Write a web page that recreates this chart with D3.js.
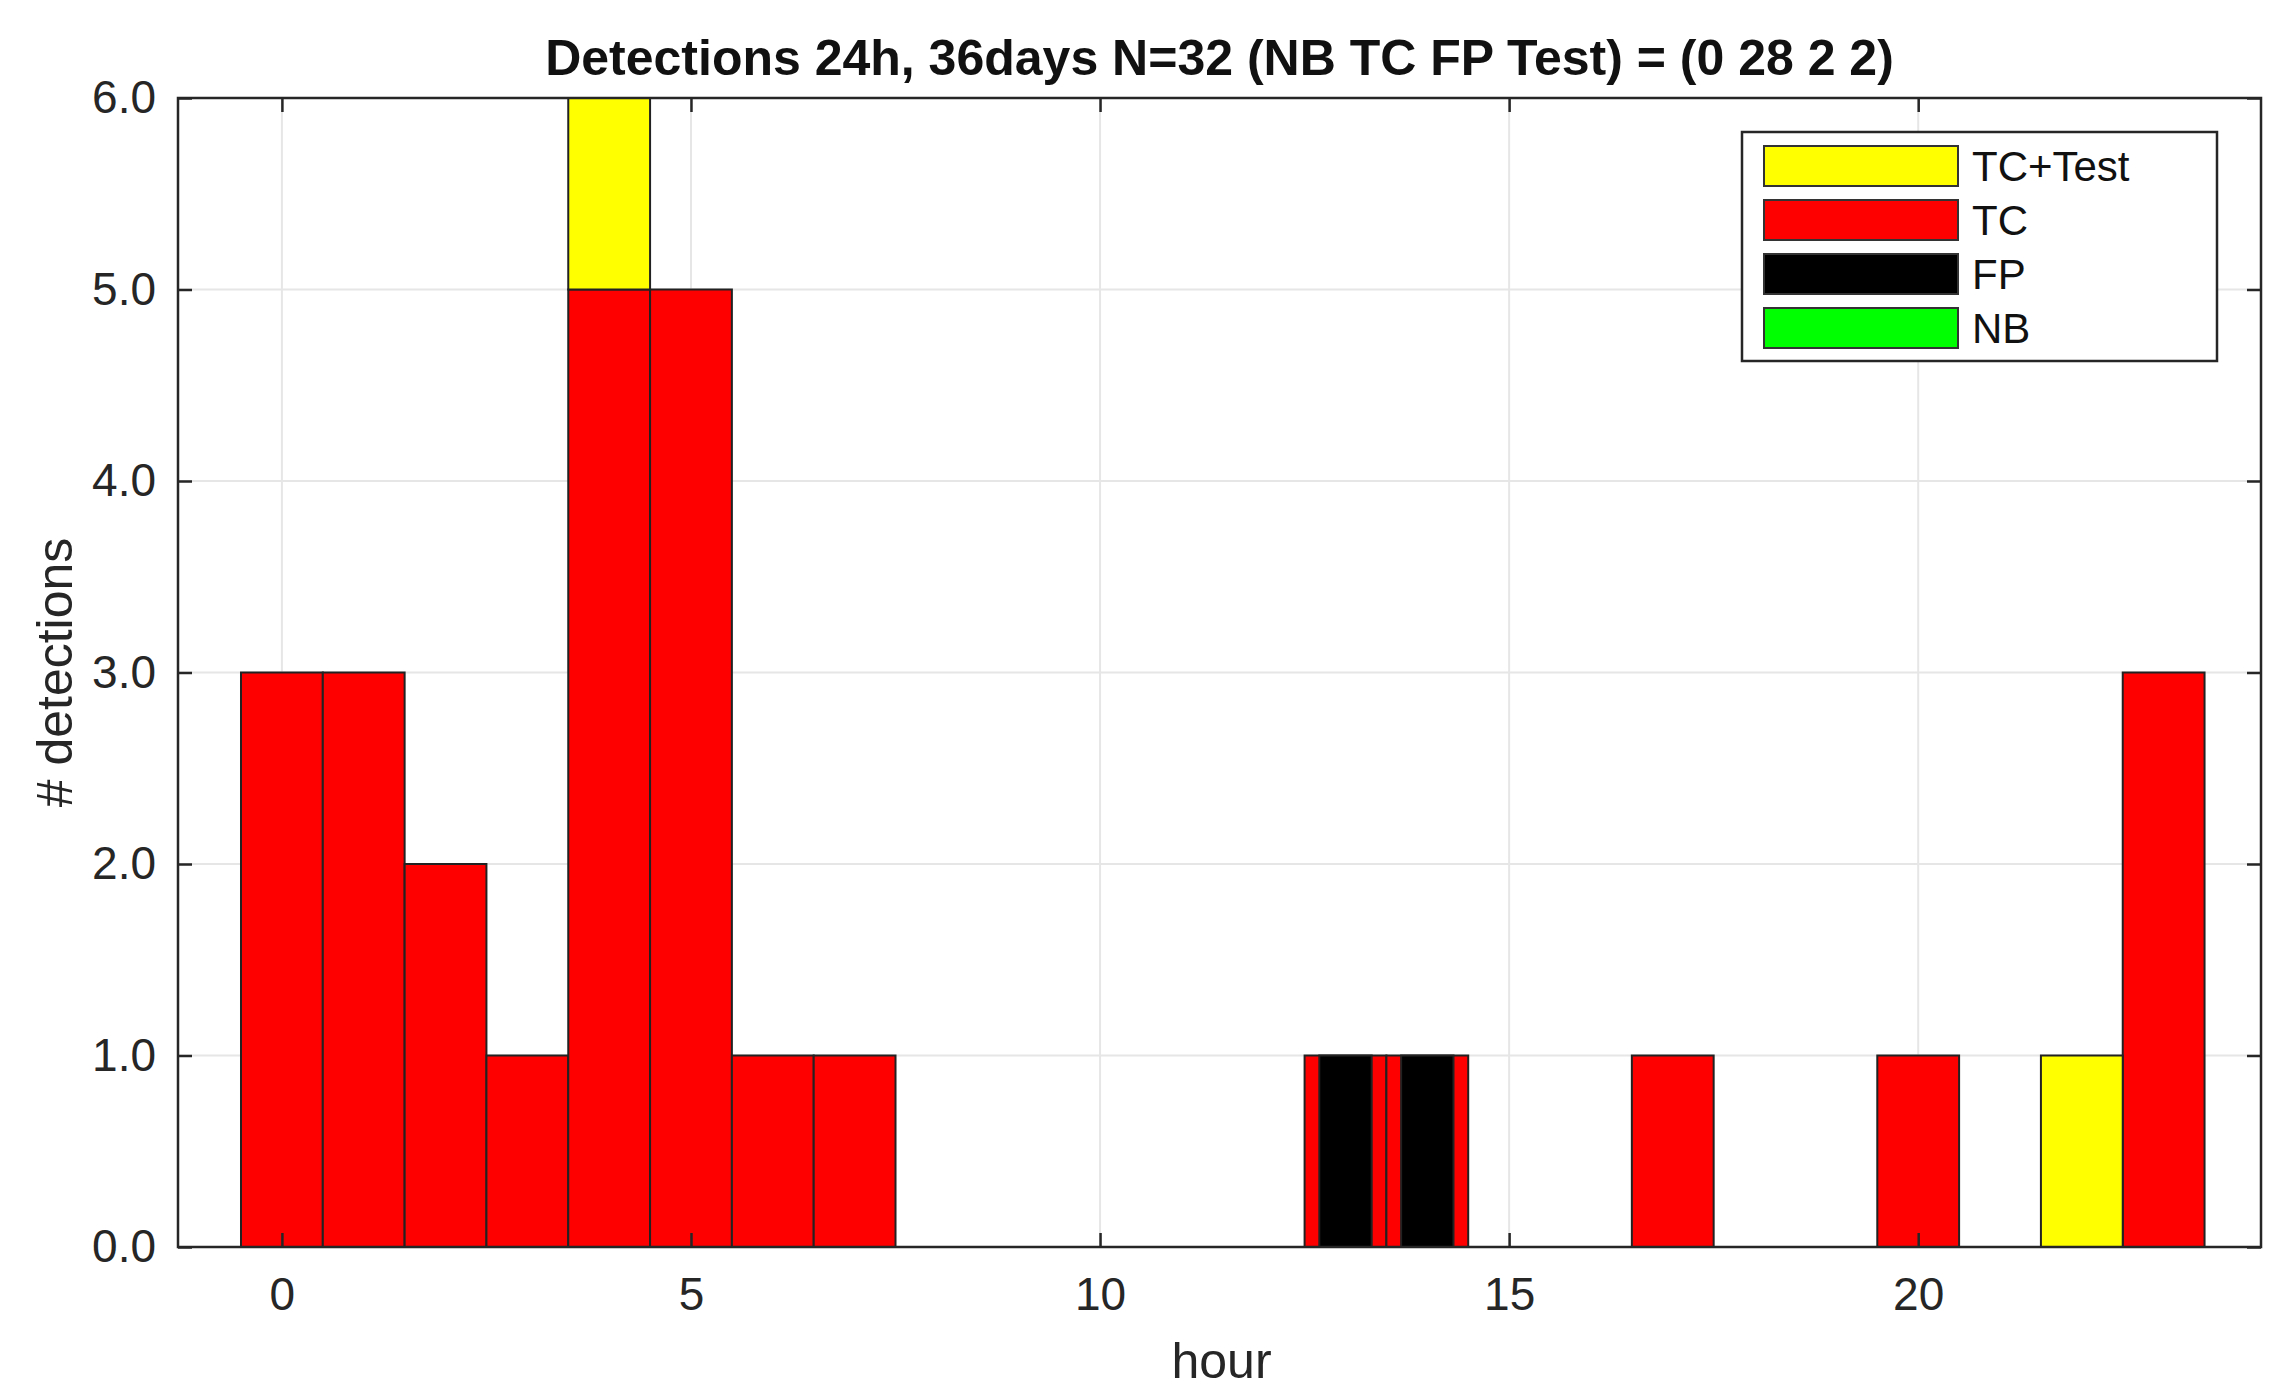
<!DOCTYPE html>
<html><head><meta charset="utf-8">
<script src="https://cdn.jsdelivr.net/npm/d3@7"></script>
<style>body{margin:0;background:#fff}text{font-family:"Liberation Sans",Arial,sans-serif}</style>
</head><body>
<svg width="2283" height="1397"></svg>
<script>
// hourly counts
let hours   = [0,1,2,3,4,5,6,7,13,14,17,20,22,23];
let tcVals  = [3,3,2,1,5,5,1,1,1,1,1,1,0,3];
let testVals= [0,0,0,0,1,0,0,0,0,0,0,0,1,0];
let fpHours = [13,14];
let fpVals  = [1,1];
let xTicks = [0,5,10,15,20];
let yTicks = [0,1,2,3,4,5,6];
let legendLabels = ["TC+Test","TC","FP","NB"];
let legendColors = ["#ffff00","#ff0000","#000000","#00ff00"];

let svg = d3.select("svg");
let L = 178, R = 2261, T = 98, B = 1247;
let x = d3.scaleLinear().domain([-1.27, 24.19]).range([L, R]);
let y = d3.scaleLinear().domain([0, 6]).range([B, T]);

// grid
svg.selectAll(".gx").data(xTicks).enter().append("line")
  .attr("x1", d => x(d)).attr("x2", d => x(d)).attr("y1", T).attr("y2", B)
  .style("stroke", "#e6e6e6").style("stroke-width", 2);
svg.selectAll(".gy").data(yTicks).enter().append("line")
  .attr("x1", L).attr("x2", R).attr("y1", d => y(d)).attr("y2", d => y(d))
  .style("stroke", "#e6e6e6").style("stroke-width", 2);

let bw = x(1) - x(0);
// TC bars
svg.selectAll(".tc").data(hours).enter().append("rect")
  .attr("x", d => x(d - 0.5)).attr("width", bw)
  .attr("y", (d, i) => y(tcVals[i])).attr("height", (d, i) => B - y(tcVals[i]))
  .style("fill", "#ff0000").style("stroke", "#222").style("stroke-width", 2)
  .style("display", (d, i) => tcVals[i] ? null : "none");
// Test stacked on top
svg.selectAll(".ts").data(hours).enter().append("rect")
  .attr("x", d => x(d - 0.5)).attr("width", bw)
  .attr("y", (d, i) => y(tcVals[i] + testVals[i]))
  .attr("height", (d, i) => y(tcVals[i]) - y(tcVals[i] + testVals[i]))
  .style("fill", "#ffff00").style("stroke", "#222").style("stroke-width", 2)
  .style("display", (d, i) => testVals[i] ? null : "none");
// FP narrow bars
svg.selectAll(".fp").data(fpHours).enter().append("rect")
  .attr("x", d => x(d - 0.32)).attr("width", x(0.64) - x(0))
  .attr("y", (d, i) => y(fpVals[i])).attr("height", (d, i) => B - y(fpVals[i]))
  .style("fill", "#000").style("stroke", "#222").style("stroke-width", 2);

// axes box
svg.append("rect").attr("x", L).attr("y", T).attr("width", R - L).attr("height", B - T)
  .style("fill", "none").style("stroke", "#262626").style("stroke-width", 2.5);

let ax = svg.append("g").attr("transform", `translate(0,${B})`)
  .call(d3.axisBottom(x).tickValues(xTicks).tickSizeInner(-14).tickSizeOuter(0).tickPadding(30));
let ay = svg.append("g").attr("transform", `translate(${L},0)`)
  .call(d3.axisLeft(y).tickValues(yTicks).tickSizeInner(-14).tickSizeOuter(0).tickPadding(22));
svg.append("g").attr("transform", `translate(0,${T})`)
  .call(d3.axisTop(x).tickValues(xTicks).tickSizeInner(-14).tickSizeOuter(0).tickFormat(""));
svg.append("g").attr("transform", `translate(${R},0)`)
  .call(d3.axisRight(y).tickValues(yTicks).tickSizeInner(-14).tickSizeOuter(0).tickFormat(""));
svg.selectAll(".domain").remove();
svg.selectAll(".tick line").style("stroke", "#262626").style("stroke-width", 2.5);
svg.selectAll(".tick text").style("font-size", "46px").style("fill", "#262626")
  .style("font-family", '"Liberation Sans",Arial,sans-serif');

// labels
svg.append("text").attr("x", (L + R) / 2).attr("y", 75).attr("text-anchor", "middle")
  .style("font-size", "50px").style("font-weight", "bold").style("fill", "#111")
  .text("Detections 24h, 36days  N=32 (NB TC FP Test) = (0  28   2   2)");
svg.append("text").attr("x", (L + R) / 2 + 2).attr("y", 1378).attr("text-anchor", "middle")
  .style("font-size", "50px").style("fill", "#262626").text("hour");
svg.append("text").attr("transform", `translate(72,${(T + B) / 2}) rotate(-90)`).attr("text-anchor", "middle")
  .style("font-size", "50px").style("fill", "#262626").text("# detections");

// legend
let lg = svg.append("g").attr("transform", "translate(1742,132)");
lg.append("rect").attr("width", 475).attr("height", 229)
  .style("fill", "#fff").style("stroke", "#262626").style("stroke-width", 2.5);
legendLabels.forEach((t, i) => {
  let cy = 34 + i * 54;
  lg.append("rect").attr("x", 22).attr("y", cy - 20).attr("width", 194).attr("height", 40)
    .style("fill", legendColors[i]).style("stroke", "#333").style("stroke-width", 2);
  lg.append("text").attr("x", 230).attr("y", cy + 15)
    .style("font-size", "42px").style("fill", "#111").text(t);
});
</script>
</body></html>
